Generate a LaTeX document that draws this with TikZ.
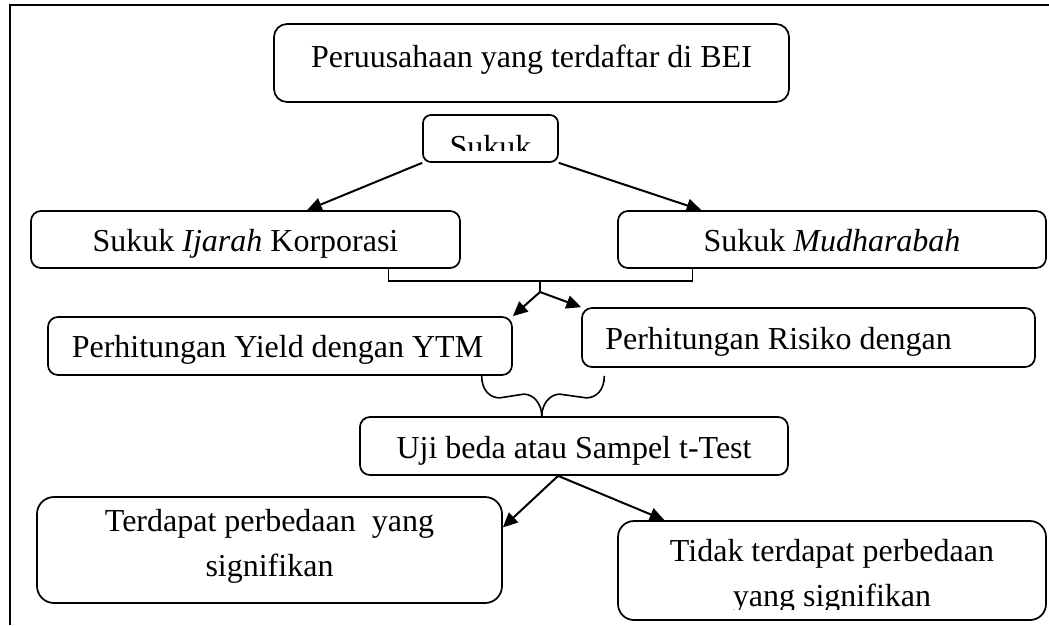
\documentclass[tikz,border=0pt]{standalone}
\usepackage{fontspec}
\setmainfont{Liberation Serif}
\usetikzlibrary{arrows.meta, calc}

\begin{document}
\begin{tikzpicture}[
    x=0.75pt, y=-0.75pt,
    box/.style={rectangle, draw=black, line width=1.3pt, rounded corners=7.5pt, inner sep=0pt},
    txt/.style={font=\fontsize{24}{34}\selectfont, inner sep=0pt, anchor=base, align=center},
    arrow/.style={-{Triangle[length=11pt, width=10pt]}, line width=1.5pt},
    link/.style={line width=1.2pt},
    frame/.style={line width=1.3pt}
]
    \useasboundingbox (0,0) rectangle (1049,625);

    % Outer frame
    \draw[frame] (10,625) -- (10,5) -- (1049,5);

    % Boxes
    \node[box, minimum width=515*0.75pt, minimum height=78*0.75pt, rounded corners=9.75pt] (bei) at (531.5,63) {};
    \node[box, minimum width=135*0.75pt, minimum height=47*0.75pt, rounded corners=6pt] (sukuk) at (490.5,138.5) {};
    \node[box, minimum width=429*0.75pt, minimum height=57*0.75pt] (ijarah) at (245.5,239.5) {};
    \node[box, minimum width=428*0.75pt, minimum height=57*0.75pt] (mudh) at (832,239.5) {};
    \node[box, minimum width=464*0.75pt, minimum height=58*0.75pt] (yield) at (280,346) {};
    \node[box, minimum width=453*0.75pt, minimum height=59*0.75pt] (risiko) at (808.5,337.5) {};
    \node[box, minimum width=428*0.75pt, minimum height=58*0.75pt] (uji) at (574,446) {};
    \node[box, minimum width=465*0.75pt, minimum height=106*0.75pt, rounded corners=12.75pt] (terdapat) at (269.5,550) {};
    \node[box, minimum width=428*0.75pt, minimum height=99*0.75pt, rounded corners=12pt] (tidak) at (832,570.5) {};

    % Texts (two-line texts sit on their last baseline)
    \node[txt] (beitext) at (531.5,67) {Peruusahaan yang terdaftar di BEI};
    \begin{scope}
        \clip (sukuk.north west) rectangle ($(sukuk.east)+(0,11.5)$);
        \node[txt] (sukuktext) at (490.5,157) {Sukuk};
    \end{scope}
    \node[txt] (ijarahtext) at (245.5,251.7) {Sukuk \textit{Ijarah} Korporasi};
    \node[txt] (mudhtext) at (832,251.7) {Sukuk \textit{Mudharabah}};
    \node[txt] (yieldtext) at (277.5,357.3) {Perhitungan Yield dengan YTM};
    \node[txt, anchor=base west] (risikotext) at (605,349.3) {Perhitungan Risiko dengan};
    \node[txt] (ujitext) at (574,458.3) {Uji beda atau Sampel t-Test};
    \node[txt] (terdapattext) at (269.5,576.7) {Terdapat perbedaan\ \ yang\\signifikan};
    \begin{scope}
        \clip (tidak.north west) rectangle ($(tidak.south east)+(0,-11)$);
        \node[txt] (tidaktext) at (832,606.7) {Tidak terdapat perbedaan\\yang signifikan};
    \end{scope}

    % Sukuk splits in two
    \draw[arrow] (sukuk.south west) -- ($(ijarah.north west)!0.643!(ijarah.north east)$);
    \draw[arrow] (sukuk.south east) -- ($(mudh.north west)!0.196!(mudh.north east)$);

    % Join of both kinds, then the two calculations
    \coordinate (join) at (540,280);
    \coordinate (fork) at (540,292);
    \draw[link] ($(ijarah.south west)!0.832!(ijarah.south east)$) -- ++(0,12) -| ($(mudh.south west)!0.175!(mudh.south east)$);
    \draw[link] (join) -- (fork);
    \draw[arrow] (fork) -- (yield.north east);
    \draw[arrow] (fork) -- (risiko.north west);

    % Brace into the test
    \coordinate (bl) at ($(yield.south west)!0.933!(yield.south east)$);
    \coordinate (br) at ($($(risiko.south west)!0.051!(risiko.south east)$)+(0,8)$);
    \coordinate (tip) at ($(uji.north west)!0.425!(uji.north east)$);
    \draw[link] (bl) .. controls +(0,14) and +(-10,0) .. ($(bl)+(18,22)$) -- ($(tip)+(-18,-22)$) .. controls +(10,0) and +(0,-12) .. (tip);
    \draw[link] (br) .. controls +(0,14) and +(10,0) .. ($(br)+(-18,22)$) -- ($(tip)+(18,-22)$) .. controls +(-10,0) and +(0,-12) .. (tip);

    % Results
    \coordinate (ujib) at ($(uji.south west)!0.463!(uji.south east)$);
    \draw[arrow] (ujib) -- ($(terdapat.north east)!0.29!(terdapat.south east)$);
    \draw[arrow] (ujib) -- ($(tidak.north west)!0.11!(tidak.north east)$);

\end{tikzpicture}
\end{document}
